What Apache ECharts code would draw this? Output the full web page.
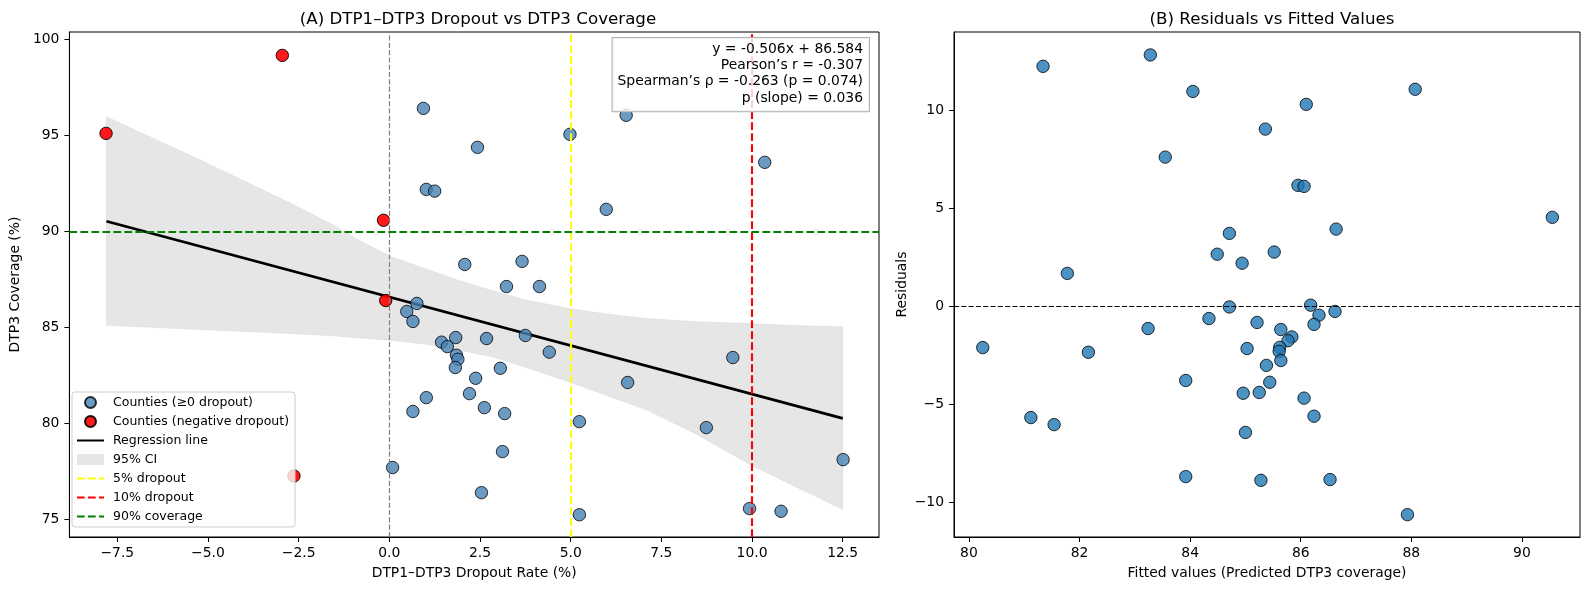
<!DOCTYPE html>
<html>
<head>
<meta charset="utf-8">
<script src="https://cdn.jsdelivr.net/npm/echarts@6/dist/echarts.min.js"></script>
<style>
  html, body { margin: 0; padding: 0; background: #fff; }
  #chart { width: 1589px; height: 590px; }
</style>
</head>
<body>
<div id="chart"></div>
<script>
// counties with dropout >= 0
const dropoutPos = [0.94, 1.02, 1.25, 2.43, 4.98, 6.53, 10.35, 5.98, 2.08, 3.66, 3.23, 4.14,
  0.76, 0.48, 0.65, 1.44, 1.60, 1.02, 0.65, 0.09, 1.83, 2.68, 3.75, 4.41, 1.85, 1.89, 1.82,
  3.06, 2.38, 2.21, 2.62, 3.18, 5.24, 6.57, 9.47, 8.74, 12.51, 3.12, 2.54, 5.24, 9.93, 10.80];
const coveragePos = [96.41, 92.19, 92.10, 94.38, 95.06, 96.05, 93.60, 91.15, 88.28, 88.44, 87.13, 87.13,
  86.25, 85.83, 85.31, 84.23, 84.00, 81.34, 80.62, 77.70, 84.47, 84.42, 84.58, 83.71, 83.55, 83.34, 82.91,
  82.87, 82.35, 81.55, 80.82, 80.51, 80.09, 82.13, 83.43, 79.78, 78.11, 78.53, 76.39, 75.24, 75.56, 75.42];

// counties with negative dropout
const dropoutNeg = [-7.81, -2.95, -0.16, -0.10, -2.63];
const coverageNeg = [95.11, 99.17, 90.58, 86.40, 77.26];

// regression line end points
const regX = [-7.8, 12.5];
const regY = [90.53, 80.26];

// 95% CI band
const ciX = [-7.8, -5.4, -2.7, -1.5, -0.85, 0.06, 1.0, 1.9, 2.8, 3.8, 4.96, 6.0, 7.12, 8.5, 9.9, 11.2, 12.5];
const ciUpper = [95.98, 93.89, 91.46, 90.30, 89.55, 88.68, 88.05, 87.46, 86.94, 86.42, 85.99, 85.70, 85.46, 85.30, 85.20, 85.10, 85.03];
const ciLower = [85.11, 84.90, 84.68, 84.55, 84.45, 84.33, 84.12, 83.82, 83.48, 82.90, 82.16, 81.45, 80.68, 79.40, 77.90, 76.70, 75.51];

// thresholds
const dropout5 = 5;
const dropout10 = 10;
const coverage90 = 90;

// residual panel
const fittedVals = [81.34, 83.28, 84.05, 83.55, 81.78, 84.49, 84.71, 88.07, 86.10, 85.36, 85.95, 86.06,
  90.55, 84.94, 85.52, 86.64, 80.25, 81.12, 81.54, 82.16, 83.24, 83.92, 83.92, 84.34,
  84.71, 86.18, 86.33, 86.62, 86.24, 85.21, 85.64, 85.84, 85.77, 85.62, 85.61, 85.64,
  85.03, 85.38, 85.44, 84.96, 85.25, 86.06, 86.24, 85.00, 85.28, 86.53, 87.93];
const residualVals = [12.23, 12.81, 10.95, 7.60, 1.67, 2.65, 3.71, 11.06, 10.29, 9.03, 6.16, 6.11,
  4.53, 2.19, 2.76, 3.93, -2.11, -5.68, -6.04, -2.35, -1.14, -3.79, -8.69, -0.63,
  -0.04, 0.05, -0.46, -0.27, -0.93, -0.83, -1.19, -1.57, -1.76, -2.10, -2.30, -2.77,
  -2.16, -3.02, -3.88, -4.44, -4.40, -4.69, -5.61, -6.44, -8.88, -8.84, -10.63];

// tick labels
const dropoutTicks = [-7.5, -5, -2.5, 0, 2.5, 5, 7.5, 10, 12.5];
const coverageTicks = [75, 80, 85, 90, 95, 100];
const fittedTicks = [80, 82, 84, 86, 88, 90];
const residualTicks = [-10, -5, 0, 5, 10];

const FONT = 'DejaVu Sans';
const minus = s => String(s).replace('-', '\u2212');

function zip(a, b) {
  return a.map((v, i) => [v, b[i]]);
}

function makeAxis(grid, min, max, ticks, fmt, name, gap, isY) {
  return {
    gridIndex: grid,
    type: 'value',
    min: min,
    max: max,
    name: name,
    nameLocation: 'middle',
    nameGap: gap,
    nameTextStyle: { fontFamily: FONT, fontSize: 13.9, color: '#000' },
    axisLine: { show: true, onZero: false, lineStyle: { color: '#000', width: 1 } },
    axisTick: { show: true, length: 5, customValues: ticks, lineStyle: { color: '#000', width: 1 } },
    axisLabel: {
      customValues: ticks,
      formatter: fmt,
      color: '#000',
      fontFamily: FONT,
      fontSize: 13.9,
      margin: isY ? 10 : 9
    },
    splitLine: { show: false }
  };
}

const dash15 = [7.7, 3.3];
const dash10 = [5.1, 2.2];
// hide the dot that echarts puts in the middle of line legend icons
const noDot = { color: 'rgba(0,0,0,0)', borderWidth: 0 };

const chart = echarts.init(document.getElementById('chart'), null, { renderer: 'canvas' });

const option = {
  animation: false,
  backgroundColor: '#fff',
  title: [
    {
      text: '(A) DTP1–DTP3 Dropout vs DTP3 Coverage',
      left: 473, top: 6, textAlign: 'center',
      textStyle: { fontFamily: FONT, fontSize: 16.7, fontWeight: 'normal', color: '#000' }
    },
    {
      text: '(B) Residuals vs Fitted Values',
      left: 1267, top: 6, textAlign: 'center',
      textStyle: { fontFamily: FONT, fontSize: 16.7, fontWeight: 'normal', color: '#000' }
    }
  ],
  grid: [
    { left: 67, top: 32, width: 812, height: 505, show: true, borderColor: '#000', borderWidth: 1 },
    { left: 954, top: 32, width: 626, height: 505, show: true, borderColor: '#000', borderWidth: 1 }
  ],
  xAxis: [
    makeAxis(0, -8.82, 13.5, dropoutTicks, v => minus(v.toFixed(1)), 'DTP1–DTP3 Dropout Rate (%)', 29, false),
    makeAxis(1, 79.73, 91.05, fittedTicks, v => String(v), 'Fitted values (Predicted DTP3 coverage)', 29, false)
  ],
  yAxis: [
    makeAxis(0, 74.08, 100.39, coverageTicks, v => String(v), 'DTP3 Coverage (%)', 44, true),
    makeAxis(1, -11.77, 13.98, residualTicks, v => minus(v), 'Residuals', 45, true)
  ],
  legend: {
    left: 72, top: 392,
    orient: 'vertical',
    data: [
      { name: 'Counties (≥0 dropout)', icon: 'circle' },
      { name: 'Counties (negative dropout)', icon: 'circle' },
      { name: 'Regression line', itemStyle: noDot },
      { name: '95% CI', icon: 'rect' },
      { name: '5% dropout', itemStyle: noDot },
      { name: '10% dropout', itemStyle: noDot },
      { name: '90% coverage', itemStyle: noDot }
    ],
    backgroundColor: 'rgba(255,255,255,0.8)',
    borderColor: '#cccccc',
    borderWidth: 1,
    borderRadius: 3,
    padding: [4, 6, 4, 4],
    itemWidth: 27,
    itemHeight: 11,
    itemGap: 6,
    textStyle: { fontFamily: FONT, fontSize: 12.5, color: '#000', padding: [0, 0, 0, 4] },
    z: 10
  },
  graphic: [
    {
      type: 'text',
      x: 869, y: 38,
      z: 100,
      style: {
        text: 'y = -0.506x + 86.584\nPearson’s r = -0.307\nSpearman’s ρ = -0.263 (p = 0.074)\np (slope) = 0.036',
        align: 'right',
        verticalAlign: 'top',
        fontFamily: FONT,
        fontSize: 13.9,
        lineHeight: 16.3,
        fill: '#000',
        backgroundColor: 'rgba(255,255,255,0.8)',
        borderColor: '#b0b0b0',
        borderWidth: 1,
        padding: [3, 6, 5, 5]
      }
    }
  ],
  series: [
    {
      name: '95% CI',
      type: 'custom',
      xAxisIndex: 0, yAxisIndex: 0,
      z: 1,
      silent: true,
      itemStyle: { color: 'rgba(128,128,128,0.2)' },
      data: ciX.map((x, i) => [x, ciUpper[i], ciLower[i]]),
      encode: { x: 0, y: [1, 2] },
      renderItem: function (params, api) {
        if (params.dataIndex !== 0) return;
        const pts = [];
        for (let i = 0; i < ciX.length; i++) pts.push(api.coord([ciX[i], ciUpper[i]]));
        for (let i = ciX.length - 1; i >= 0; i--) pts.push(api.coord([ciX[i], ciLower[i]]));
        return {
          type: 'polygon',
          shape: { points: pts },
          style: { fill: 'rgba(128,128,128,0.2)', stroke: 'rgba(128,128,128,0.1)', lineWidth: 1 }
        };
      }
    },
    {
      name: 'Regression line',
      type: 'line',
      xAxisIndex: 0, yAxisIndex: 0,
      z: 3,
      symbol: 'none',
      data: zip(regX, regY),
      lineStyle: { color: '#000', width: 2.8 },
      itemStyle: { color: '#000' }
    },
    {
      name: 'Counties (≥0 dropout)',
      type: 'scatter',
      xAxisIndex: 0, yAxisIndex: 0,
      z: 4,
      symbolSize: 12.4,
      data: zip(dropoutPos, coveragePos),
      itemStyle: { color: 'steelblue', opacity: 0.8, borderColor: '#000', borderWidth: 1 }
    },
    {
      name: 'Counties (negative dropout)',
      type: 'scatter',
      xAxisIndex: 0, yAxisIndex: 0,
      z: 4,
      symbolSize: 12.4,
      data: zip(dropoutNeg, coverageNeg),
      itemStyle: { color: '#ff0000', opacity: 0.9, borderColor: '#000', borderWidth: 1 }
    },
    {
      name: 'zero dropout',
      type: 'line',
      xAxisIndex: 0, yAxisIndex: 0,
      z: 5,
      symbol: 'none',
      data: [],
      markLine: {
        silent: true, symbol: 'none', label: { show: false },
        lineStyle: { color: 'gray', width: 1.2, type: dash10 },
        data: [{ xAxis: 0 }]
      }
    },
    {
      name: '5% dropout',
      type: 'line',
      xAxisIndex: 0, yAxisIndex: 0,
      z: 5,
      symbol: 'none',
      data: [],
      lineStyle: { color: 'yellow', width: 2.1, type: dash15 },
      itemStyle: { color: 'yellow' },
      markLine: {
        silent: true, symbol: 'none', label: { show: false },
        lineStyle: { color: 'yellow', width: 2.1, type: dash15 },
        data: [{ xAxis: dropout5 }]
      }
    },
    {
      name: '10% dropout',
      type: 'line',
      xAxisIndex: 0, yAxisIndex: 0,
      z: 5,
      symbol: 'none',
      data: [],
      lineStyle: { color: 'red', width: 2.1, type: dash15 },
      itemStyle: { color: 'red' },
      markLine: {
        silent: true, symbol: 'none', label: { show: false },
        lineStyle: { color: 'red', width: 2.1, type: dash15 },
        data: [{ xAxis: dropout10 }]
      }
    },
    {
      name: '90% coverage',
      type: 'line',
      xAxisIndex: 0, yAxisIndex: 0,
      z: 5,
      symbol: 'none',
      data: [],
      lineStyle: { color: 'green', width: 2.1, type: dash15 },
      itemStyle: { color: 'green' },
      markLine: {
        silent: true, symbol: 'none', label: { show: false },
        lineStyle: { color: 'green', width: 2.1, type: dash15 },
        data: [{ yAxis: coverage90 }]
      }
    },
    {
      name: 'Residuals',
      type: 'scatter',
      xAxisIndex: 1, yAxisIndex: 1,
      z: 4,
      symbolSize: 12.4,
      data: zip(fittedVals, residualVals),
      itemStyle: { color: '#1f77b4', opacity: 0.8, borderColor: '#000', borderWidth: 1 },
      markLine: {
        silent: true, symbol: 'none', label: { show: false },
        lineStyle: { color: '#000', width: 1.2, type: dash10, opacity: 1 },
        data: [{ yAxis: 0 }]
      }
    }
  ]
};

chart.setOption(option);
</script>
</body>
</html>
